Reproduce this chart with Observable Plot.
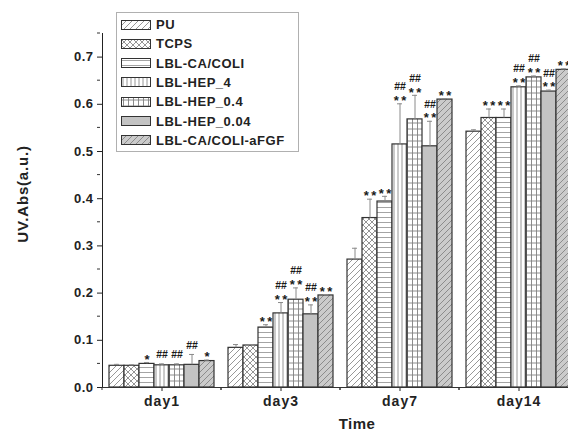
<!DOCTYPE html>
<html><head><meta charset="utf-8">
<script src="https://cdn.jsdelivr.net/npm/d3@7"></script>
<script src="https://cdn.jsdelivr.net/npm/@observablehq/plot@0.6"></script>
<style>
html,body{margin:0;padding:0;background:#fff;overflow:hidden;}
#wrap{position:relative;width:568px;height:434px;overflow:hidden;}
#chart svg{max-width:none !important;}
#chart svg [aria-label^="fx-axis"] text{font-size:14px;letter-spacing:1px;}
#chart svg [aria-label^="y-axis"] text{font-size:13px;letter-spacing:0.5px;}
#legend{position:absolute;left:116px;top:12px;width:183px;height:140px;border:1px solid #b0b0b0;background:#fff;box-sizing:border-box;font-family:"Liberation Sans",Arial,sans-serif;font-weight:bold;font-size:13px;color:#222;letter-spacing:0.5px;}
.row{position:absolute;left:4px;height:14px;display:flex;align-items:center;white-space:nowrap;}
.row svg{margin-right:5px;}
</style></head><body>
<svg width="0" height="0" style="position:absolute">
<defs>
<pattern id="p-pu" patternUnits="userSpaceOnUse" width="6" height="6">
  <rect width="6" height="6" fill="#fff"/>
  <path d="M-1,1 L1,-1 M0,6 L6,0 M5,7 L7,5" stroke="#8c8c8c" stroke-width="0.9"/>
</pattern>
<pattern id="p-tcps" patternUnits="userSpaceOnUse" width="6" height="6">
  <rect width="6" height="6" fill="#fff"/>
  <path d="M-1,-1 L7,7 M7,-1 L-1,7" stroke="#7a7a7a" stroke-width="0.8"/>
</pattern>
<pattern id="p-ca" patternUnits="userSpaceOnUse" width="5" height="5">
  <rect width="5" height="5" fill="#fff"/>
  <path d="M0,2.5 H5" stroke="#9a9a9a" stroke-width="0.9"/>
</pattern>
<pattern id="p-h4" patternUnits="userSpaceOnUse" width="4" height="4">
  <rect width="4" height="4" fill="#fff"/>
  <path d="M2,0 V4" stroke="#8a8a8a" stroke-width="0.9"/>
</pattern>
<pattern id="p-h04" patternUnits="userSpaceOnUse" width="5" height="6">
  <rect width="5" height="6" fill="#fff"/>
  <path d="M2.5,0 V6 M0,3 H5" stroke="#808080" stroke-width="0.9"/>
</pattern>
<pattern id="p-h004" patternUnits="userSpaceOnUse" width="4" height="4">
  <rect width="4" height="4" fill="#c3c3c3"/>
</pattern>
<pattern id="p-afgf" patternUnits="userSpaceOnUse" width="6" height="6">
  <rect width="6" height="6" fill="#cbcbcb"/>
  <path d="M-1,1 L1,-1 M0,6 L6,0 M5,7 L7,5" stroke="#858585" stroke-width="0.9"/>
</pattern>
</defs></svg>
<div id="wrap"><div id="chart"></div><div id="legend"></div></div>
<script>
// ---- data ----
const days = ["day1", "day3", "day7", "day14"];
const series = ["PU", "TCPS", "LBL-CA/COLI", "LBL-HEP_4", "LBL-HEP_0.4", "LBL-HEP_0.04", "LBL-CA/COLI-aFGF"];
const valPU      = [0.046, 0.084, 0.271, 0.542];
const valTCPS    = [0.046, 0.089, 0.359, 0.571];
const valCACOLI  = [0.050, 0.127, 0.394, 0.571];
const valHEP4    = [0.047, 0.157, 0.515, 0.636];
const valHEP04   = [0.047, 0.186, 0.568, 0.657];
const valHEP004  = [0.048, 0.155, 0.511, 0.627];
const valAFGF    = [0.056, 0.195, 0.610, 0.673];
const errPU      = [0.003, 0.007, 0.024, 0.004];
const errTCPS    = [0.002, 0.002, 0.040, 0.019];
const errCACOLI  = [0.003, 0.006, 0.011, 0.019];
const errHEP4    = [0.003, 0.023, 0.086, 0.003];
const errHEP04   = [0.003, 0.025, 0.051, 0.003];
const errHEP004  = [0.022, 0.020, 0.053, 0.003];
const errAFGF    = [0.002, 0.002, 0.002, 0.002];
const starPU     = ["", "", "", ""];
const starTCPS   = ["", "", "**", "**"];
const starCACOLI = ["*", "**", "**", "**"];
const starHEP4   = ["", "**", "**", "**"];
const starHEP04  = ["", "**", "**", "**"];
const starHEP004 = ["", "**", "**", "**"];
const starAFGF   = ["*", "**", "**", "**"];
const hashPU     = ["", "", "", ""];
const hashTCPS   = ["", "", "", ""];
const hashCACOLI = ["", "", "", ""];
const hashHEP4   = ["##", "##", "##", "##"];
const hashHEP04  = ["##", "##", "##", "##"];
const hashHEP004 = ["##", "##", "##", "##"];
const hashAFGF   = ["", "", "", ""];
const yTicks = [0, 0.1, 0.2, 0.3, 0.4, 0.5, 0.6, 0.7];
const yMinor = [0.05, 0.15, 0.25, 0.35, 0.45, 0.55, 0.65, 0.75];

const values = [valPU, valTCPS, valCACOLI, valHEP4, valHEP04, valHEP004, valAFGF];
const errs = [errPU, errTCPS, errCACOLI, errHEP4, errHEP04, errHEP004, errAFGF];
const stars = [starPU, starTCPS, starCACOLI, starHEP4, starHEP04, starHEP004, starAFGF];
const hashes = [hashPU, hashTCPS, hashCACOLI, hashHEP4, hashHEP04, hashHEP004, hashAFGF];
const fills = ["url(#p-pu)", "url(#p-tcps)", "url(#p-ca)", "url(#p-h4)", "url(#p-h04)", "url(#p-h004)", "url(#p-afgf)"];
const fillOf = Object.fromEntries(series.map((s, i) => [s, fills[i]]));

const rows = [];
days.forEach((day, j) => series.forEach((s, i) => rows.push({
  day, series: s, value: values[i][j], err: errs[i][j], star: stars[i][j], hash: hashes[i][j]
})));

const font = "Liberation Sans, Arial, sans-serif";
const plot = Plot.plot({
  width: 580, height: 434,
  marginLeft: 100, marginRight: 1, marginTop: 33, marginBottom: 47,
  style: {fontFamily: font, fontSize: "13px", fontWeight: "bold", color: "#222", background: "transparent", overflow: "visible"},
  facet: {data: rows, x: "day"},
  fx: {domain: days, padding: 0, axis: "bottom", label: null, tickSize: 4, tickPadding: 5},
  x: {domain: series, axis: null, paddingInner: 0, paddingOuter: 0.345},
  y: {domain: [0, 0.75], ticks: yTicks, tickFormat: d3.format(".1f"), tickSize: 5, tickPadding: 4, line: true, label: null},
  color: {type: "identity"},
  marks: [
    Plot.barY(rows, {x: "series", y: "value", fill: d => fillOf[d.series], stroke: "#333", strokeWidth: 1.2}),
    Plot.ruleX(rows, {x: "series", y1: "value", y2: d => d.value + d.err, stroke: "#8a8a8a", strokeWidth: 1}),
    Plot.tickY(rows, {x: "series", y: d => d.value + d.err, stroke: "#8a8a8a", strokeWidth: 1, insetLeft: 5, insetRight: 5}),
    Plot.text(rows, {x: "series", y: d => d.value + d.err, text: d => d.star ? d.star.split("").join("\u2009") : null, dy: -3, fontSize: 13, fontWeight: "bold", fill: "#1a1a1a"}),
    Plot.text(rows, {filter: d => d.hash && d.star, x: "series", y: d => d.value + d.err, text: "hash", dy: -17, fontSize: 10.5, fontWeight: "bold", fill: "#1a1a1a"}),
    Plot.text(rows, {filter: d => d.hash && !d.star, x: "series", y: d => d.value + d.err, text: "hash", dy: -9, fontSize: 10.5, fontWeight: "bold", fill: "#1a1a1a"}),
    Plot.ruleY([0], {stroke: "#333", strokeWidth: 1.2})
  ]
});
document.getElementById("chart").appendChild(plot);

// minor ticks and axis titles drawn from the plot's own scales
const svg = d3.select(plot);
const ys = plot.scale("y");
const fxs = plot.scale("fx");
const x0 = 100;
const g = svg.append("g").attr("stroke", "#333").attr("stroke-width", 1);
yMinor.forEach(v => g.append("line").attr("x1", x0 - 3).attr("x2", x0).attr("y1", ys.apply(v)).attr("y2", ys.apply(v)));
if (fxs && fxs.apply) {
  const bw = fxs.bandwidth ?? fxs.step;
  const y0 = ys.apply(0);
  days.forEach(d => {
    const a = fxs.apply(d);
    [a, a + bw].forEach(x => g.append("line").attr("x1", x).attr("x2", x).attr("y1", y0).attr("y2", y0 + 3));
  });
}
svg.append("text").text("UV.Abs(a.u.)")
  .attr("transform", `translate(23,${(ys.apply(0) + ys.apply(0.75)) / 2 - 16}) rotate(-90)`)
  .attr("text-anchor", "middle").attr("dy", "0.35em")
  .attr("font-size", 15).attr("letter-spacing", 0.8).attr("fill", "#222");
svg.append("text").text("Time")
  .attr("x", 357).attr("y", 424).attr("text-anchor", "middle").attr("dy", "0.35em")
  .attr("font-size", 15).attr("letter-spacing", 0.5).attr("fill", "#222");

// legend
const legend = d3.select("#legend");
series.forEach((s, i) => {
  const row = legend.append("div").attr("class", "row").style("top", (4.5 + i * 19.3) + "px");
  const sw = row.append("svg").attr("width", 30).attr("height", 10);
  sw.append("rect").attr("x", 0.5).attr("y", 0.5).attr("width", 29).attr("height", 9)
    .attr("fill", fills[i]).attr("stroke", "#333").attr("stroke-width", 1);
  row.append("span").text(s);
});
</script>
</body></html>
